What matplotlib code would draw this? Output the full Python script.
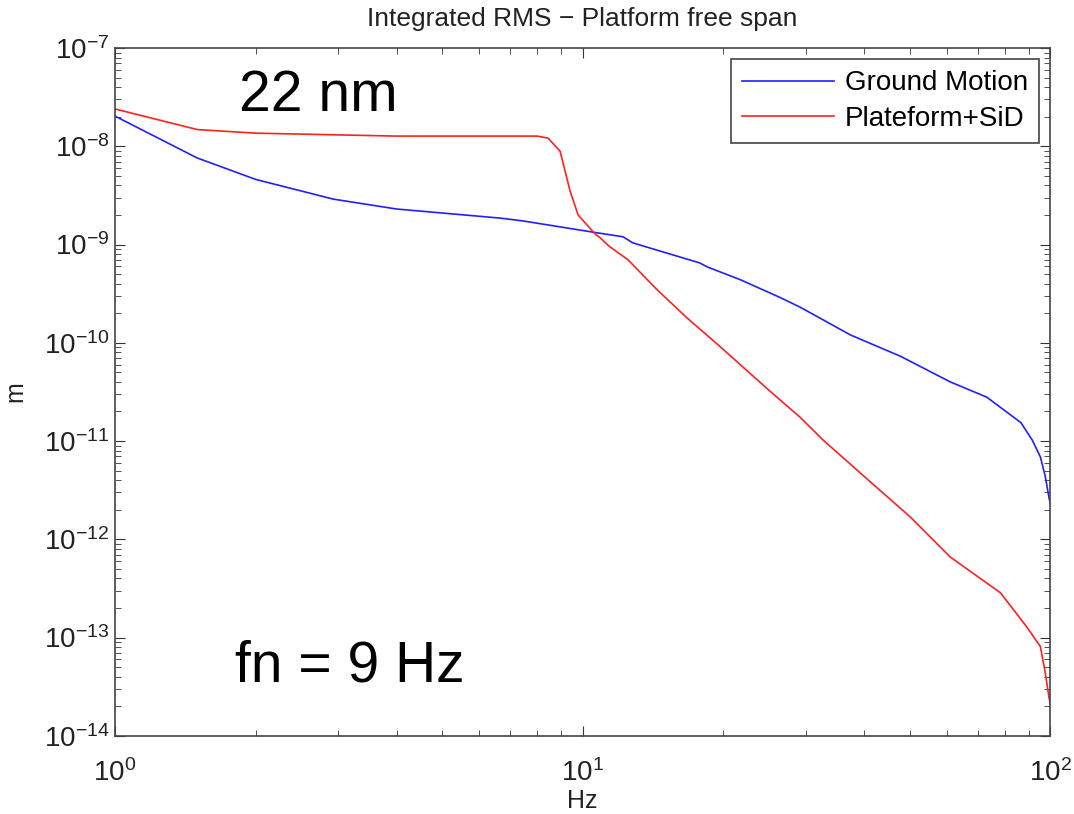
import numpy as np
import matplotlib.pyplot as plt
from matplotlib.ticker import LogLocator, NullFormatter

plt.rcParams['font.family'] = ['Liberation Sans', 'DejaVu Sans']
plt.rcParams['mathtext.fontset'] = 'custom'
plt.rcParams['mathtext.rm'] = 'Liberation Sans'
plt.rcParams['mathtext.it'] = 'Liberation Sans:italic'

# ground motion integrated rms
freq_gm = [1.0, 1.5, 2.0, 2.93, 4.0, 6.65, 7.45, 10.7, 12.2, 12.8, 17.8, 18.5,
           21.7, 26.4, 29.2, 37.4, 47.8, 61.1, 73.1, 86.5, 91.5, 95.2, 97.5, 99.4, 100.0]
rms_gm = [2.03e-8, 7.6e-9, 4.6e-9, 2.9e-9, 2.3e-9, 1.86e-9, 1.74e-9, 1.32e-9, 1.2e-9,
          1.04e-9, 6.5e-10, 5.9e-10, 4.4e-10, 2.9e-10, 2.3e-10, 1.2e-10, 7.3e-11,
          4.0e-11, 2.8e-11, 1.54e-11, 1.02e-11, 6.9e-12, 4.4e-12, 2.6e-12, 2.3e-12]

# platform + SiD integrated rms
freq_pf = [1.0, 1.5, 2.0, 4.0, 8.0, 8.44, 8.95, 9.4, 9.78, 10.6, 10.9, 11.4, 12.5,
           14.4, 16.7, 19.7, 25.0, 29.2, 32.7, 40.6, 50.1, 61.1, 78.2, 89.3, 95.2,
           97.5, 99.4, 100.0]
rms_pf = [2.4e-8, 1.48e-8, 1.36e-8, 1.27e-8, 1.27e-8, 1.21e-8, 8.9e-9, 3.5e-9, 2.0e-9,
          1.3e-9, 1.17e-9, 9.6e-10, 7.0e-10, 3.5e-10, 1.8e-10, 9.1e-11, 3.3e-11,
          1.74e-11, 1.02e-11, 4.1e-12, 1.7e-12, 6.6e-13, 2.86e-13, 1.26e-13, 8.1e-14,
          4.4e-14, 2.4e-14, 2.1e-14]

fig = plt.figure(figsize=(10.74, 8.14), dpi=100)
ax = fig.add_axes([0.107, 0.096, 0.871, 0.845])

ax.loglog(freq_gm, rms_gm, color='#2020ff', lw=1.2, label='Ground Motion')
ax.loglog(freq_pf, rms_pf, color='#ff2020', lw=1.2, label='Plateform+SiD')

ax.set_xlim(1, 100)
ax.set_ylim(1e-14, 1e-7)
ax.yaxis.set_major_locator(LogLocator(base=10, numticks=20))
ax.yaxis.set_minor_locator(LogLocator(base=10, subs=np.arange(2, 10), numticks=20))
ax.yaxis.set_minor_formatter(NullFormatter())
ax.xaxis.set_minor_formatter(NullFormatter())

ax.tick_params(which='both', direction='in', top=True, right=True, colors='#333333',
               labelcolor='#222222')
ax.tick_params(which='major', length=7, labelsize=20)
ax.tick_params(axis='x', which='major', pad=17)
ax.tick_params(axis='y', which='major', pad=4)
ax.tick_params(which='minor', length=4)
for s in ax.spines.values():
    s.set_color('#444444')
    s.set_linewidth(1.2)

ax.set_title('Integrated RMS \u2212 Platform free span', fontsize=19, pad=16, color='#222222')
ax.set_xlabel('Hz', fontsize=18, labelpad=1, color='#222222')
ax.set_ylabel('m', fontsize=18, labelpad=12, color='#222222')

ax.text(0.133, 0.93, '22 nm', transform=ax.transAxes, fontsize=41, va='center', ha='left')
ax.text(0.128, 0.101, 'fn = 9 Hz', transform=ax.transAxes, fontsize=41, va='center', ha='left')

leg = ax.legend(loc='upper right', fontsize=20, fancybox=False, framealpha=1,
                edgecolor='#444444', borderaxespad=0.4, handlelength=3.3,
                handletextpad=0.4, borderpad=0.4, labelspacing=0.35)
leg.get_frame().set_linewidth(1.2)

fig.savefig('out.png', dpi=100)
